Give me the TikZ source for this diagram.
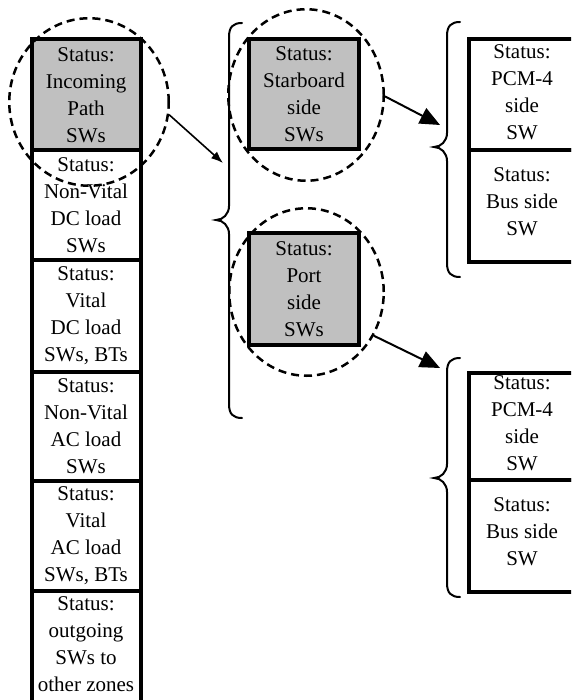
\documentclass[tikz,border=0pt]{standalone}
\usepackage{fontspec}
\setmainfont{Liberation Serif}
\usetikzlibrary{shapes.geometric,arrows.meta}
\definecolor{panelgray}{RGB}{192,192,192}

% left curly brace: #1 = x of the two ends, #2 = top y, #3 = tip y, #4 = bottom y
\newcommand\curlyleft[4]{%
  \draw[bracestyle] (#1,#2) .. controls (#1-9,#2) and (#1-13,#2+4) .. (#1-13,#2+14)
    -- (#1-13,#3-14)
    .. controls (#1-13,#3-6) and (#1-19,#3) .. (#1-26,#3)
    .. controls (#1-19,#3) and (#1-13,#3+6) .. (#1-13,#3+14)
    -- (#1-13,#4-14)
    .. controls (#1-13,#4-4) and (#1-9,#4) .. (#1,#4);}

\begin{document}
\begin{tikzpicture}[x=1pt,y=-1pt,
  cell/.style={draw, line width=4pt, inner sep=0pt, align=center,
    font=\fontsize{21}{27}\selectfont},
  shaded/.style={cell, fill=panelgray},
  txt/.style={inner sep=0pt, align=center, font=\fontsize{21}{27}\selectfont},
  zone/.style={ellipse, draw, dash pattern=on 8pt off 5pt, line width=2.5pt, inner sep=0pt},
  thinarrow/.style={line width=1.6pt, -{Latex[length=12pt,width=9pt]}},
  boldarrow/.style={line width=2pt, -{Triangle[length=20pt,width=17pt]}},
  bracestyle/.style={line width=2pt, line cap=round}]

\useasboundingbox (0,0) rectangle (571,700);
\clip (0,0) rectangle (571,700);

% zone status column
\node[shaded, minimum width=109pt, minimum height=111.5pt] (b1) at (86,94.75)
  {Status:\\Incoming\\Path\\SWs};
\node[cell, minimum width=109pt, minimum height=109.5pt] (b2) at (86,205.25)
  {Status:\\Non-Vital\\DC load\\SWs};
\node[cell, minimum width=109pt, minimum height=111.5pt] (b3) at (86,315.75)
  {Status:\\Vital\\DC load\\SWs, BTs};
\node[cell, minimum width=109pt, minimum height=109pt] (b4) at (86,426)
  {Status:\\Non-Vital\\AC load\\SWs};
\node[cell, minimum width=109pt, minimum height=110pt] (b5) at (86,535.5)
  {Status:\\Vital\\AC load\\SWs, BTs};
\node[cell, minimum width=109pt, minimum height=130pt] (b6) at (86,655.5) {};
\node[txt] (b6t) at (86,644) {Status:\\outgoing\\SWs to\\other zones};

% incoming path split
\node[shaded, minimum width=110.5pt, minimum height=110pt] (sb) at (304,94.5)
  {Status:\\Starboard\\side\\SWs};
\node[shaded, minimum width=110pt, minimum height=111.5pt] (pt) at (304,289)
  {Status:\\Port\\side\\SWs};

% starboard side switches
\node[cell, minimum width=121pt, minimum height=111.5pt] (r1) at (529.5,94.75) {};
\node[txt] (r1t) at (522,92) {Status:\\PCM-4\\side\\SW};
\node[cell, minimum width=121pt, minimum height=111.5pt] (r2) at (529.5,206.25) {};
\node[txt] (r2t) at (522,202) {Status:\\Bus side\\SW};

% port side switches
\node[cell, minimum width=121pt, minimum height=107.5pt] (r3) at (529.5,426.25) {};
\node[txt] (r3t) at (522,423) {Status:\\PCM-4\\side\\SW};
\node[cell, minimum width=121pt, minimum height=112pt] (r4) at (529.5,536) {};
\node[txt] (r4t) at (522,532) {Status:\\Bus side\\SW};

% dashed zones
\node[zone, minimum width=159.5pt, minimum height=167.5pt] (c1) at (89,102) {};
\node[zone, minimum width=155.5pt, minimum height=171.5pt] (c2) at (306,95) {};
\node[zone, minimum width=154.5pt, minimum height=167.5pt] (c3) at (306.5,292) {};

% braces
\curlyleft{242}{23}{220}{418}
\curlyleft{460}{22}{147}{277}
\curlyleft{460}{358}{478}{597}

% arrow targets at the braces
\coordinate (t1) at (223,163);
\coordinate (t2) at (440,125);
\coordinate (t3) at (440,368);

\draw[thinarrow] (c1.-9) -- (t1);
\draw[boldarrow] (c2.-1) -- (t2);
\draw[boldarrow] (c3.-33) -- (t3);
\end{tikzpicture}
\end{document}
